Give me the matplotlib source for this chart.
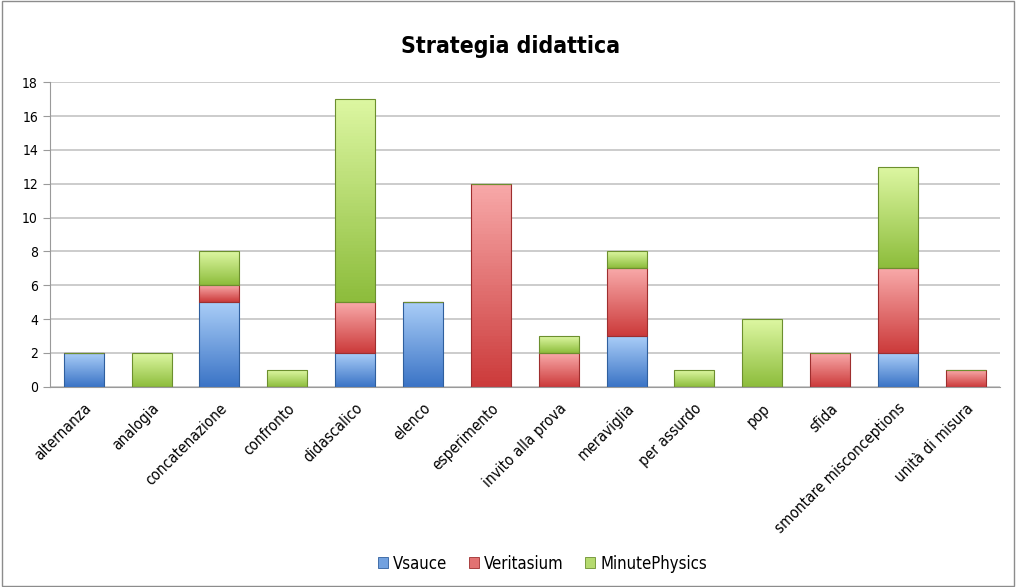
import numpy as np
import matplotlib.pyplot as plt
from matplotlib.colors import LinearSegmentedColormap
from matplotlib.patches import Rectangle

categorie = ['alternanza', 'analogia', 'concatenazione', 'confronto', 'didascalico',
             'elenco', 'esperimento', 'invito alla prova', 'meraviglia', 'per assurdo',
             'pop', 'sfida', 'smontare misconceptions', 'unità di misura']
vsauce = [2, 0, 5, 0, 2, 5, 0, 0, 3, 0, 0, 0, 2, 0]
veritasium = [0, 0, 1, 0, 3, 0, 12, 2, 4, 0, 0, 2, 5, 1]
minutephysics = [0, 2, 2, 1, 12, 0, 0, 1, 1, 1, 4, 0, 6, 0]

serie = [('Vsauce', vsauce, '#a9cdf7', '#3b74c6', '#2f5f9e'),
         ('Veritasium', veritasium, '#f8a9a9', '#cc3b3b', '#9e2e2e'),
         ('MinutePhysics', minutephysics, '#ddf7a2', '#8dbd3c', '#6c8f2e')]

plt.rcParams['font.family'] = ['DejaVu Sans']
plt.rcParams['font.stretch'] = 'condensed'

fig = plt.figure(figsize=(10.16, 5.87), dpi=100)
ax = fig.add_axes([0.049, 0.341, 0.935, 0.519])

x = np.arange(len(categorie))
base = np.zeros(len(categorie))
grad = np.linspace(0, 1, 64).reshape(-1, 1)
handles = []
for nome, vals, chiaro, scuro, bordo in serie:
    vals = np.array(vals, dtype=float)
    cmap = LinearSegmentedColormap.from_list(nome, [scuro, chiaro])
    bars = ax.bar(x, vals, 0.59, bottom=base, facecolor='none', edgecolor=bordo,
                  linewidth=0.8, zorder=3)
    for b, v in zip(bars, vals):
        if v == 0:
            continue
        x0, y0 = b.get_x(), b.get_y()
        im = ax.imshow(grad, cmap=cmap, origin='lower', aspect='auto', zorder=2,
                       extent=[x0, x0 + b.get_width(), y0, y0 + b.get_height()])
        im.set_clip_path(b)
    handles.append(Rectangle((0, 0), 1, 1, facecolor=cmap(0.5), edgecolor=bordo, linewidth=0.6))
    base += vals

ax.set_xlim(-0.5, len(categorie) - 0.5)
ax.set_ylim(0, 18)
ax.set_yticks(range(0, 19, 2))
ax.yaxis.grid(True, color='#c4c4c4', linewidth=1.2, zorder=0)
ax.set_axisbelow(True)
for s in ['top', 'right']:
    ax.spines[s].set_visible(False)
ax.spines['left'].set_color('#9a9a9a')
ax.spines['bottom'].set_color('#9a9a9a')
ax.tick_params(axis='y', colors='#9a9a9a', labelcolor='black', labelsize=10, length=5)
ax.tick_params(axis='x', length=0, labelsize=11, pad=10)
ax.set_xticks(x)
ax.set_xticklabels(categorie, rotation=45, ha='right', rotation_mode='anchor')

fig.text(0.503, 0.92, 'Strategia didattica', ha='center', va='center', fontsize=16.5,
         fontweight='bold')
fig.legend(handles, [s[0] for s in serie], loc='center', bbox_to_anchor=(0.534, 0.04),
           ncol=3, frameon=False, fontsize=12, handlelength=0.6, handleheight=0.6,
           columnspacing=1.3, handletextpad=0.3)

fig.patches.append(Rectangle((0.002, 0.002), 0.996, 0.996, transform=fig.transFigure,
                             fill=False, edgecolor='#8c8c8c', linewidth=1))

fig.savefig('out.png', dpi=100)
